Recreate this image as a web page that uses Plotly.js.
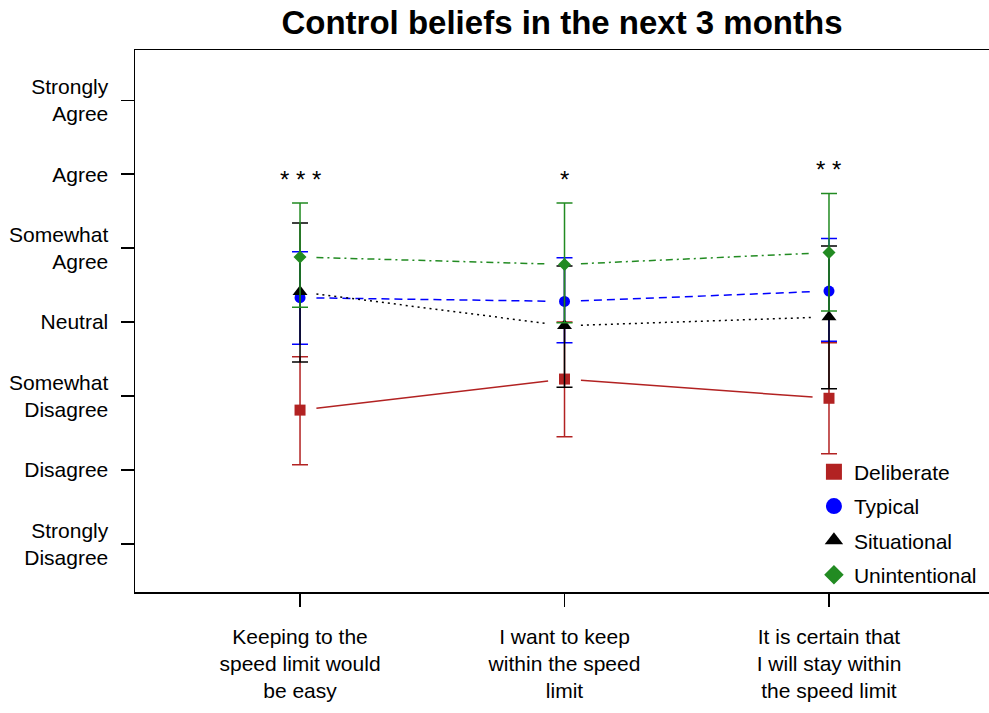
<!DOCTYPE html>
<html>
<head>
<meta charset="utf-8">
<script src="https://cdn.plot.ly/plotly-3.0.1.min.js"></script>
<style>html,body{margin:0;padding:0;background:#fff;}#chart{width:989px;height:713px;}</style>
</head>
<body>
<div id="chart"></div>
<script>
// ---- data ----
const catLabels = ['Keeping to the<br>speed limit would<br>be easy', 'I want to keep<br>within the speed<br>limit', 'It is certain that<br>I will stay within<br>the speed limit'];
const catPos = [1, 2, 3];
const yTickVals = [1, 2, 3, 4, 5, 6, 7];
const yTickText = ['Strongly<br>Disagree', 'Disagree', 'Somewhat<br>Disagree', 'Neutral', 'Somewhat<br>Agree', 'Agree', 'Strongly<br>Agree'];
const significance = ['***', '*', '**'];
const seriesNames = ['Deliberate', 'Typical', 'Situational', 'Unintentional'];

const deliberateMean = [2.81, 3.23, 2.97];
const deliberateLow  = [2.07, 2.45, 2.22];
const deliberateHigh = [3.53, 4.00, 3.72];

const typicalMean = [4.33, 4.28, 4.42];
const typicalLow  = [3.70, 3.72, 3.74];
const typicalHigh = [4.95, 4.87, 5.13];

const situationalMean = [4.41, 3.95, 4.07];
const situationalLow  = [3.46, 3.12, 3.10];
const situationalHigh = [5.34, 4.76, 5.03];

const unintentionalMean = [4.88, 4.78, 4.94];
const unintentionalLow  = [4.20, 3.99, 4.15];
const unintentionalHigh = [5.61, 5.61, 5.74];

// ---- styles ----
const styles = [
  {color: '#B22222', symbol: 'square', size: 11, dash: 'solid', legSize: 16},
  {color: '#0000FF', symbol: 'circle', size: 11, dash: '8px,5px', legSize: 18},
  {color: '#000000', symbol: 'triangle-up', size: 13, dash: '2px,4px', legSize: 18},
  {color: '#228B22', symbol: 'diamond', size: 10, dash: '7px,4px,2px,4px', legSize: 15}
];
const means = [deliberateMean, typicalMean, situationalMean, unintentionalMean];
const lows = [deliberateLow, typicalLow, situationalLow, unintentionalLow];
const highs = [deliberateHigh, typicalHigh, situationalHigh, unintentionalHigh];

const FONT = 'Liberation Sans, Arial, sans-serif';
const gap = 0.062;
const traces = [];

// connecting lines with gaps around points (type "b")
means.forEach((m, i) => {
  const xs = [], ys = [];
  for (let k = 0; k < catPos.length - 1; k++) {
    const x0 = catPos[k], x1 = catPos[k + 1];
    const f = gap / (x1 - x0);
    xs.push(x0 + gap, x1 - gap, null);
    ys.push(m[k] + (m[k + 1] - m[k]) * f, m[k + 1] - (m[k + 1] - m[k]) * f, null);
  }
  traces.push({
    x: xs, y: ys, mode: 'lines', showlegend: false, hoverinfo: 'skip',
    line: {color: styles[i].color, width: 1.5, dash: styles[i].dash}
  });
});

// points with error bars
means.forEach((m, i) => {
  traces.push({
    x: catPos, y: m, mode: 'markers', showlegend: false, hoverinfo: 'skip',
    marker: {symbol: styles[i].symbol, size: styles[i].size, color: styles[i].color},
    error_y: {
      type: 'data', symmetric: false,
      array: highs[i].map((h, k) => h - m[k]),
      arrayminus: lows[i].map((l, k) => m[k] - l),
      color: styles[i].color, thickness: 1.5, width: 8
    }
  });
});

// legend-only entries
seriesNames.forEach((n, i) => {
  traces.push({
    x: [null], y: [null], mode: 'markers', name: n, legendgroup: n,
    marker: {symbol: styles[i].symbol, size: styles[i].legSize, color: styles[i].color}
  });
});

const topVals = catPos.map((_, k) => Math.max(...highs.map(h => h[k])));
const annotations = significance.map((s, k) => ({
  x: catPos[k], y: topVals[k], xref: 'x', yref: 'y',
  text: s.split('').join(' '), showarrow: false,
  yanchor: 'bottom', yshift: 8,
  font: {family: FONT, size: 24, color: '#000'}
}));

const layout = {
  width: 989, height: 713,
  margin: {l: 135, r: 0, t: 50, b: 121, pad: 0},
  paper_bgcolor: '#fff', plot_bgcolor: '#fff',
  font: {family: FONT, size: 21, color: '#000'},
  title: {
    text: '<b>Control beliefs in the next 3 months</b>',
    font: {family: FONT, size: 33, color: '#000'},
    x: 0.5, xref: 'paper', xanchor: 'center',
    y: 0.968, yref: 'container', yanchor: 'middle'
  },
  xaxis: {
    range: [0.376, 3.605], tickmode: 'array', tickvals: catPos, ticktext: catLabels,
    showgrid: false, zeroline: false, showline: true, mirror: true,
    linecolor: '#000', linewidth: 1.5,
    ticks: 'outside', ticklen: 13, tickwidth: 1.5, tickcolor: '#000',
    ticklabelstandoff: 12,
    tickfont: {family: FONT, size: 21, color: '#000'}
  },
  yaxis: {
    range: [0.35, 7.68], tickmode: 'array', tickvals: yTickVals, ticktext: yTickText,
    showgrid: false, zeroline: false, showline: true, mirror: true,
    linecolor: '#000', linewidth: 1.5,
    ticks: 'outside', ticklen: 13, tickwidth: 1.5, tickcolor: '#000',
    ticklabelstandoff: 8,
    tickfont: {family: FONT, size: 21, color: '#000'}
  },
  legend: {
    x: 0.795, y: 0.259, xanchor: 'left', yanchor: 'top',
    bgcolor: 'rgba(0,0,0,0)', borderwidth: 0,
    font: {family: FONT, size: 21, color: '#000'},
    traceorder: 'grouped', tracegroupgap: 4, itemwidth: 30
  },
  annotations: annotations,
  showlegend: true
};

Plotly.newPlot('chart', traces, layout, {displayModeBar: false, staticPlot: true});
</script>
</body>
</html>
